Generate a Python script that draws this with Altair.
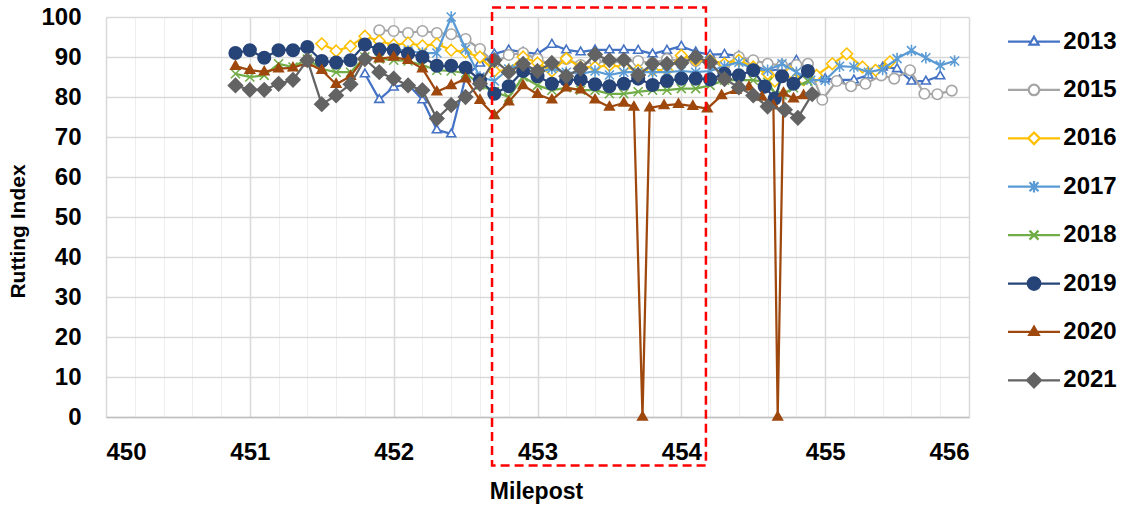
import altair as alt
import pandas as pd

FONT = "Liberation Sans"

years = ["2013", "2015", "2016", "2017", "2018", "2019", "2020", "2021"]
colors = ["#4472C4", "#A5A5A5", "#FFC000", "#5B9BD5", "#70AD47", "#264478", "#9E480E", "#636363"]
fills = ["white", "white", "white", "white", "white", "#264478", "#9E480E", "#636363"]

# ---- data (milepost, rutting index) ----
mp_2013 = [451.8, 451.9, 452.0, 452.1, 452.2, 452.3, 452.4, 452.5, 452.6, 452.7, 452.8, 452.9,
           453.0, 453.1, 453.2, 453.3, 453.4, 453.5, 453.6, 453.7, 453.8, 453.9, 454.0, 454.1,
           454.2, 454.3, 454.4, 454.5, 454.6, 454.7, 454.8, 454.9, 455.0, 455.1, 455.2, 455.3,
           455.4, 455.5, 455.6, 455.7, 455.8]
ri_2013 = [85.8, 79.4, 82.5, 83.2, 79.3, 71.8, 70.8, 85.0, 88.5, 90.8, 91.8, 91.2,
           90.8, 93.2, 91.8, 91.3, 91.8, 91.8, 91.8, 91.7, 90.8, 91.7, 92.7, 91.3,
           90.6, 90.7, 90.3, 88.0, 86.5, 87.0, 89.2, 85.5, 84.6, 84.3, 84.3, 85.5,
           87.5, 87.1, 84.0, 84.0, 85.3]

mp_2015 = [451.9, 452.0, 452.1, 452.2, 452.3, 452.4, 452.5, 452.6, 452.7, 452.8, 452.9,
           453.0, 453.1, 453.2, 453.3, 453.4, 453.5, 453.6, 453.7, 453.8, 453.9, 454.0,
           454.1, 454.2, 454.3, 454.4, 454.5, 454.6, 454.7, 454.8, 454.88, 454.98, 455.08,
           455.18, 455.28, 455.39, 455.48, 455.59, 455.69, 455.78, 455.88]
ri_2015 = [96.7, 96.5, 96.0, 96.5, 96.0, 95.7, 94.5, 92.0, 88.5, 90.5, 91.0,
           89.5, 88.0, 89.5, 88.0, 89.0, 88.5, 89.0, 89.0, 88.5, 89.5, 89.0,
           89.0, 88.5, 88.0, 90.0, 89.2, 88.3, 87.9, 88.0, 88.3, 79.3, 84.0,
           82.7, 83.3, 85.4, 84.6, 86.7, 80.8, 80.7, 81.6]

mp_2016 = [451.5, 451.6, 451.7, 451.8, 451.9, 452.0, 452.1, 452.2, 452.3, 452.4, 452.5,
           452.6, 452.7, 452.8, 452.9, 453.0, 453.1, 453.2, 453.3, 453.4, 453.5, 453.6,
           453.7, 453.8, 453.9, 454.0, 454.1, 454.2, 454.3, 454.4, 454.5, 454.6, 454.65,
           454.76, 454.85, 454.94, 455.05, 455.15, 455.26, 455.35, 455.45]
ri_2016 = [93.3, 91.5, 92.7, 95.2, 94.0, 93.0, 93.5, 92.8, 93.3, 91.7, 91.2,
           90.0, 86.5, 86.7, 90.0, 88.5, 86.5, 89.6, 87.5, 87.5, 87.9, 87.5,
           86.7, 86.7, 86.7, 90.4, 89.2, 89.2, 88.3, 89.2, 87.5, 85.8, 84.0,
           86.2, 84.3, 85.4, 88.3, 90.8, 87.5, 86.7, 88.8]

mp_2017 = [451.9, 452.0, 452.1, 452.2, 452.3, 452.4, 452.5, 452.6, 452.7, 452.8, 452.9,
           453.0, 453.1, 453.2, 453.3, 453.4, 453.5, 453.6, 453.7, 453.8, 453.9, 454.0,
           454.1, 454.2, 454.3, 454.4, 454.5, 454.6, 454.7, 454.8, 454.9, 455.0, 455.1,
           455.2, 455.3, 455.4, 455.5, 455.6, 455.7, 455.8, 455.9]
ri_2017 = [92.0, 92.0, 91.5, 91.0, 91.0, 100.0, 92.0, 85.0, 84.0, 87.0, 88.3,
           86.2, 87.1, 86.2, 85.8, 86.5, 85.5, 86.2, 86.2, 86.2, 86.2, 86.5,
           86.2, 86.5, 87.7, 88.7, 87.0, 86.7, 88.3, 86.2, 84.2, 84.2, 87.7,
           87.5, 86.2, 86.9, 89.6, 91.6, 89.8, 87.9, 89.0]

mp_2018 = [450.9, 451.0, 451.1, 451.2, 451.3, 451.4, 451.5, 451.6, 451.7, 451.8, 451.9,
           452.0, 452.1, 452.2, 452.3, 452.4, 452.5, 452.6, 452.7, 452.8, 452.9, 453.0,
           453.1, 453.2, 453.3, 453.4, 453.5, 453.6, 453.7, 453.8, 453.9, 454.0, 454.1,
           454.2, 454.3, 454.4, 454.5, 454.6, 454.65, 454.7, 454.78, 454.88]
ri_2018 = [85.8, 85.0, 85.4, 88.3, 87.5, 89.5, 87.0, 86.2, 86.2, 90.0, 89.5,
           89.2, 89.0, 88.0, 86.7, 86.5, 86.0, 83.0, 81.3, 80.0, 85.0, 82.9,
           81.7, 82.3, 81.7, 81.7, 80.8, 80.8, 81.3, 81.7, 81.7, 82.1, 82.1,
           82.9, 84.2, 84.2, 84.2, 83.7, 81.0, 80.5, 82.3, 84.0]

mp_2019 = [450.9, 451.0, 451.1, 451.2, 451.3, 451.4, 451.5, 451.6, 451.7, 451.8, 451.9,
           452.0, 452.1, 452.2, 452.3, 452.4, 452.5, 452.6, 452.7, 452.8, 452.9, 453.0,
           453.1, 453.2, 453.3, 453.4, 453.5, 453.6, 453.7, 453.8, 453.9, 454.0, 454.1,
           454.2, 454.3, 454.4, 454.5, 454.58, 454.65, 454.7, 454.78, 454.88]
ri_2019 = [91.0, 91.7, 89.8, 91.7, 91.7, 92.5, 89.0, 88.6, 89.2, 93.1, 91.9,
           91.7, 90.8, 90.0, 87.8, 87.8, 87.3, 84.2, 80.8, 82.7, 86.5, 85.2,
           83.3, 84.3, 84.3, 83.2, 82.7, 83.3, 84.6, 83.0, 84.0, 84.6, 84.6,
           84.4, 85.8, 85.4, 86.7, 82.6, 79.6, 85.2, 83.3, 86.5]

mp_2020 = [450.9, 451.0, 451.1, 451.2, 451.3, 451.4, 451.5, 451.6, 451.7, 451.8, 451.9,
           452.0, 452.1, 452.2, 452.3, 452.4, 452.5, 452.6, 452.7, 452.8, 452.9, 453.0,
           453.1, 453.2, 453.3, 453.4, 453.5, 453.6, 453.67, 453.73, 453.78, 453.88, 453.98,
           454.08, 454.18, 454.28, 454.38, 454.47, 454.56, 454.64, 454.67, 454.71, 454.78, 454.85]
ri_2020 = [87.7, 86.7, 86.3, 87.1, 87.3, 88.5, 86.7, 83.2, 85.2, 90.0, 89.6,
           90.0, 89.2, 87.1, 81.3, 82.9, 84.6, 79.2, 75.4, 78.8, 82.9, 80.7,
           79.3, 82.3, 81.8, 79.3, 77.5, 78.5, 77.5, 0.0, 77.3, 77.9, 78.2,
           77.7, 77.1, 80.4, 81.7, 82.5, 80.0, 77.9, 0.0, 81.0, 79.6, 80.4]

mp_2021 = [450.9, 451.0, 451.1, 451.2, 451.3, 451.4, 451.5, 451.6, 451.7, 451.8, 451.9,
           452.0, 452.1, 452.2, 452.3, 452.4, 452.5, 452.6, 452.7, 452.8, 452.9, 453.0,
           453.1, 453.2, 453.3, 453.4, 453.5, 453.6, 453.7, 453.8, 453.9, 454.0, 454.1,
           454.2, 454.3, 454.4, 454.5, 454.6, 454.72, 454.81, 454.91]
ri_2021 = [82.9, 81.8, 81.8, 83.3, 84.3, 89.2, 78.2, 80.4, 83.2, 89.5, 86.2,
           84.6, 82.9, 81.7, 74.6, 78.0, 80.0, 83.3, 89.2, 86.2, 88.3, 86.5,
           88.5, 85.2, 87.1, 90.6, 89.2, 89.3, 85.5, 88.3, 88.3, 88.5, 90.0,
           88.7, 84.5, 82.4, 80.4, 77.6, 76.8, 74.8, 80.7]

x_ticks = [450, 451, 452, 453, 454, 455, 456]
y_ticks = [0, 10, 20, 30, 40, 50, 60, 70, 80, 90, 100]

# highlighted section (dashed box)
box_mp = [452.684, 454.171]
box_ri = [102.35, -12.1]

# ---- marker shapes (unit = sqrt(size)/2 px) ----
def circle(r):
    return f"M{-r},0A{r},{r},0,1,1,{r},0A{r},{r},0,1,1,{-r},0Z"

def diamond(r):
    return f"M0,{-r}L{r},0L0,{r}L{-r},0Z"

markers = [
    "M0,-0.95L0.9,0.6L-0.9,0.6Z",
    circle(1.05),
    diamond(1.15),
    "M-0.9,-0.9L0.9,0.9M-0.9,0.9L0.9,-0.9M0,-1.15L0,1.15",
    "M-0.9,-0.9L0.9,0.9M-0.9,0.9L0.9,-0.9",
    circle(1.25),
    "M0,-1.05L0.95,0.6L-0.95,0.6Z",
    diamond(1.4),
]
gaps = [0.7, 1.05, 1.15, 0, 0, 0, 0, 0]
legend_paths = []
for m, g in zip(markers, gaps):
    if g:
        line = f"M-5.2,0L{-g},0M{g},0L5.2,0"
    else:
        line = "M-5.2,0L5.2,0"
    legend_paths.append(line + m)

series = {
    "2013": (mp_2013, ri_2013), "2015": (mp_2015, ri_2015), "2016": (mp_2016, ri_2016),
    "2017": (mp_2017, ri_2017), "2018": (mp_2018, ri_2018), "2019": (mp_2019, ri_2019),
    "2020": (mp_2020, ri_2020), "2021": (mp_2021, ri_2021),
}
rows = []
for yr, (mp, ri) in series.items():
    for m, v in zip(mp, ri):
        rows.append({"year": yr, "mp": m, "ri": v})
df = pd.DataFrame(rows)
box_df = pd.DataFrame({"x0": [box_mp[0]], "x1": [box_mp[1]], "y0": [box_ri[0]], "y1": [box_ri[1]]})

xscale = alt.Scale(domain=[450, 456], nice=False, zero=False)
yscale = alt.Scale(domain=[0, 100], nice=False, zero=False)

y_axis = alt.Axis(values=y_ticks, title="Rutting Index", grid=True, gridColor="#d9d9d9",
                  gridWidth=1.3, domain=False, ticks=False, tickSize=0, labelPadding=25,
                  labelFont=FONT, labelFontSize=24, labelFontWeight="bold", labelColor="black",
                  titleFont=FONT, titleFontSize=21, titleFontWeight="bold", titleColor="black",
                  titleX=-88, titleY=214, titleAlign="center", titleBaseline="middle", titleAngle=270)
x_main_axis = alt.Axis(values=x_ticks, format="d", title="Milepost", grid=True, gridColor="#d9d9d9",
                       gridWidth=1.5, domain=True, domainColor="#bfbfbf", domainWidth=1.5,
                       ticks=False, tickSize=0, labelPadding=23, orient="bottom",
                       labelFont=FONT, labelFontSize=24, labelFontWeight="bold", labelColor="black",
                       titleFont=FONT, titleFontSize=23, titleFontWeight="bold", titleColor="black",
                       titleX=430, titleY=74, titleAlign="center", titleBaseline="middle")
minor_vals = [round(450 + 0.2 * i, 1) for i in range(31) if i % 5]
x_minor_axis = alt.Axis(values=minor_vals, title=None, grid=True, gridColor="#eeeeee", gridWidth=1,
                        domain=False, ticks=False, labels=False, orient="bottom")

Y = alt.Y("ri:Q", scale=yscale, axis=y_axis)

layers = []
for i, yr in enumerate(years):
    sub = df[df["year"] == yr]
    xa_line = x_main_axis if i == 0 else None
    xa_pt = x_minor_axis if i == 0 else None
    line = alt.Chart(sub).mark_line(color=colors[i], strokeWidth=2.25, strokeJoin="round").encode(
        x=alt.X("mp:Q", scale=xscale, axis=xa_line), y=Y, order="mp:Q")
    pts = alt.Chart(sub).mark_point(shape=markers[i], size=100, filled=True, fill=fills[i],
                                    stroke=colors[i], strokeWidth=1.6, opacity=1).encode(
        x=alt.X("mp:Q", scale=xscale, axis=xa_pt), y=Y)
    layers += [line, pts]

box = alt.Chart(box_df).mark_rect(filled=False, stroke="#FF0000", strokeWidth=2.5,
                                  strokeDash=[9, 5], clip=False).encode(
    x=alt.X("x0:Q", scale=xscale, axis=None), x2="x1",
    y=alt.Y("y0:Q", scale=yscale, axis=y_axis), y2="y1")
layers.append(box)

leg = alt.Legend(orient="none", legendX=916, legendY=12.5, title=None, labelFont=FONT,
                 labelFontSize=24, labelFontWeight="bold", labelColor="black", symbolSize=100,
                 symbolStrokeWidth=2.25, labelOffset=17.3, rowPadding=24.4, padding=0,
                 symbolOpacity=1, labelLimit=200)
legend_layer = alt.Chart(df).transform_filter("false").mark_point(
    filled=True, size=100, strokeWidth=2.25, opacity=1).encode(
    shape=alt.Shape("year:N", scale=alt.Scale(domain=years, range=legend_paths), legend=leg),
    stroke=alt.Stroke("year:N", scale=alt.Scale(domain=years, range=colors), legend=leg),
    fill=alt.Fill("year:N", scale=alt.Scale(domain=years, range=fills), legend=leg),
)
layers.append(legend_layer)

chart = alt.layer(*layers).resolve_axis(x="independent").properties(
    width=863, height=400,
    autosize=alt.AutoSizeParams(type="none"),
    padding={"left": 106, "top": 17, "right": 157, "bottom": 91},
    background="white",
).configure_view(stroke=None)

chart.save("out.html", embed_options={"renderer": "svg", "actions": False})
